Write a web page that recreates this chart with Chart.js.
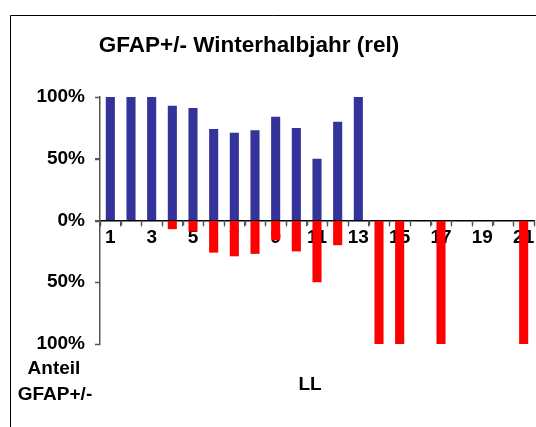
<!DOCTYPE html>
<html lang="de">
  <head>
    <meta charset="UTF-8" />
    <title>GFAP+/- Winterhalbjahr (rel)</title>
    <script src="https://cdn.jsdelivr.net/npm/chart.js"></script>
    <style>
      html, body { margin: 0; padding: 0; background: #fff; }
    </style>
  </head>
  <body>
    <canvas id="chart" width="536" height="427"></canvas>

    <script>
      // categories LL 1..21
      const categories = ["1","2","3","4","5","6","7","8","9","10","11","12","13","14","15","16","17","18","19","20","21"];
      // GFAP+ share (percent, upwards)
      const gfapPlus = [100, 100, 100, 93, 91, 74, 71, 73, 84, 75, 50, 80, 100, null, null, null, null, null, null, null, null];
      // GFAP- share (percent, drawn downwards)
      const gfapMinus = [null, null, null, -7, -9, -26, -29, -27, -16, -25, -50, -20, null, -100, -100, null, -100, null, null, null, -100];
      const yTicks = [-100, -50, 0, 50, 100];

      const FONT = "'Liberation Sans', Arial, sans-serif";

      // frame, tick marks and free text (title, axis captions)
      const textPlugin = {
        id: "textPlugin",
        beforeDraw(chart) {
          const c = chart.ctx;
          c.save();
          c.strokeStyle = "#000";
          c.lineWidth = 1;
          c.beginPath();
          c.moveTo(10.5, chart.height);
          c.lineTo(10.5, 15.5);
          c.lineTo(chart.width, 15.5);
          c.stroke();
          c.restore();
        },
        afterDraw(chart) {
          const c = chart.ctx;
          const xs = chart.scales.x;
          const ys = chart.scales.y;
          const y0 = ys.getPixelForValue(0);
          const step = xs.getPixelForValue(1) - xs.getPixelForValue(0);
          c.save();
          c.strokeStyle = "#555";
          c.lineWidth = 1.5;
          c.beginPath();
          // x tick marks at category boundaries
          for (let i = 0; i <= categories.length; i++) {
            const x = Math.round(xs.getPixelForValue(0) - step / 2 + i * step) + 0.5;
            c.moveTo(x, y0);
            c.lineTo(x, y0 + 5);
          }
          // y tick marks
          yTicks.forEach((v) => {
            const y = Math.round(ys.getPixelForValue(v)) + 0.5;
            c.moveTo(ys.right - 5, y);
            c.lineTo(ys.right, y);
          });
          c.stroke();

          c.fillStyle = "#000";
          c.textAlign = "center";
          c.textBaseline = "middle";
          c.font = "bold 22.5px " + FONT;
          c.fillText("GFAP+/- Winterhalbjahr (rel)", 249, 46);
          c.font = "bold 19px " + FONT;
          c.fillText("Anteil", 54, 369);
          c.fillText("GFAP+/-", 55, 395);
          c.fillText("LL", 310, 385);
          c.restore();
        },
      };

      const ctx = document.getElementById("chart").getContext("2d");
      new Chart(ctx, {
        type: "bar",
        data: {
          labels: categories,
          datasets: [
            {
              label: "GFAP+",
              data: gfapPlus,
              backgroundColor: "#333399",
            },
            {
              label: "GFAP-",
              data: gfapMinus,
              backgroundColor: "#ff0000",
            },
          ],
        },
        options: {
          responsive: false,
          animation: false,
          layout: { padding: { left: 0, top: 97, right: 2, bottom: 83 } },
          datasets: { bar: { categoryPercentage: 1, barPercentage: 0.44 } },
          plugins: {
            legend: { display: false },
            tooltip: { enabled: false },
          },
          scales: {
            x: {
              stacked: true,
              position: { y: 0 },
              border: { color: "#000", width: 1.5 },
              grid: {
                offset: true,
                drawOnChartArea: false,
                tickLength: 5,
                tickColor: "#555",
              },
              ticks: {
                autoSkip: false,
                maxRotation: 0,
                padding: 1,
                color: "#000",
                font: { family: FONT, size: 19, weight: "bold" },
                callback: (v, i) => (i % 2 === 0 ? categories[i] : ""),
              },
            },
            y: {
              stacked: true,
              min: -100,
              max: 100,
              afterBuildTicks: (scale) => {
                scale.ticks = yTicks.map((v) => ({ value: v }));
              },
              afterFit: (scale) => {
                scale.width = 100;
              },
              border: { color: "#555", width: 1.5 },
              grid: {
                drawOnChartArea: false,
                tickLength: 5,
                tickColor: "#555",
              },
              ticks: {
                padding: 10,
                color: "#000",
                font: { family: FONT, size: 19, weight: "bold" },
                callback: (v) => Math.abs(v) + "%",
              },
            },
          },
        },
        plugins: [textPlugin],
      });
    </script>
  </body>
</html>
